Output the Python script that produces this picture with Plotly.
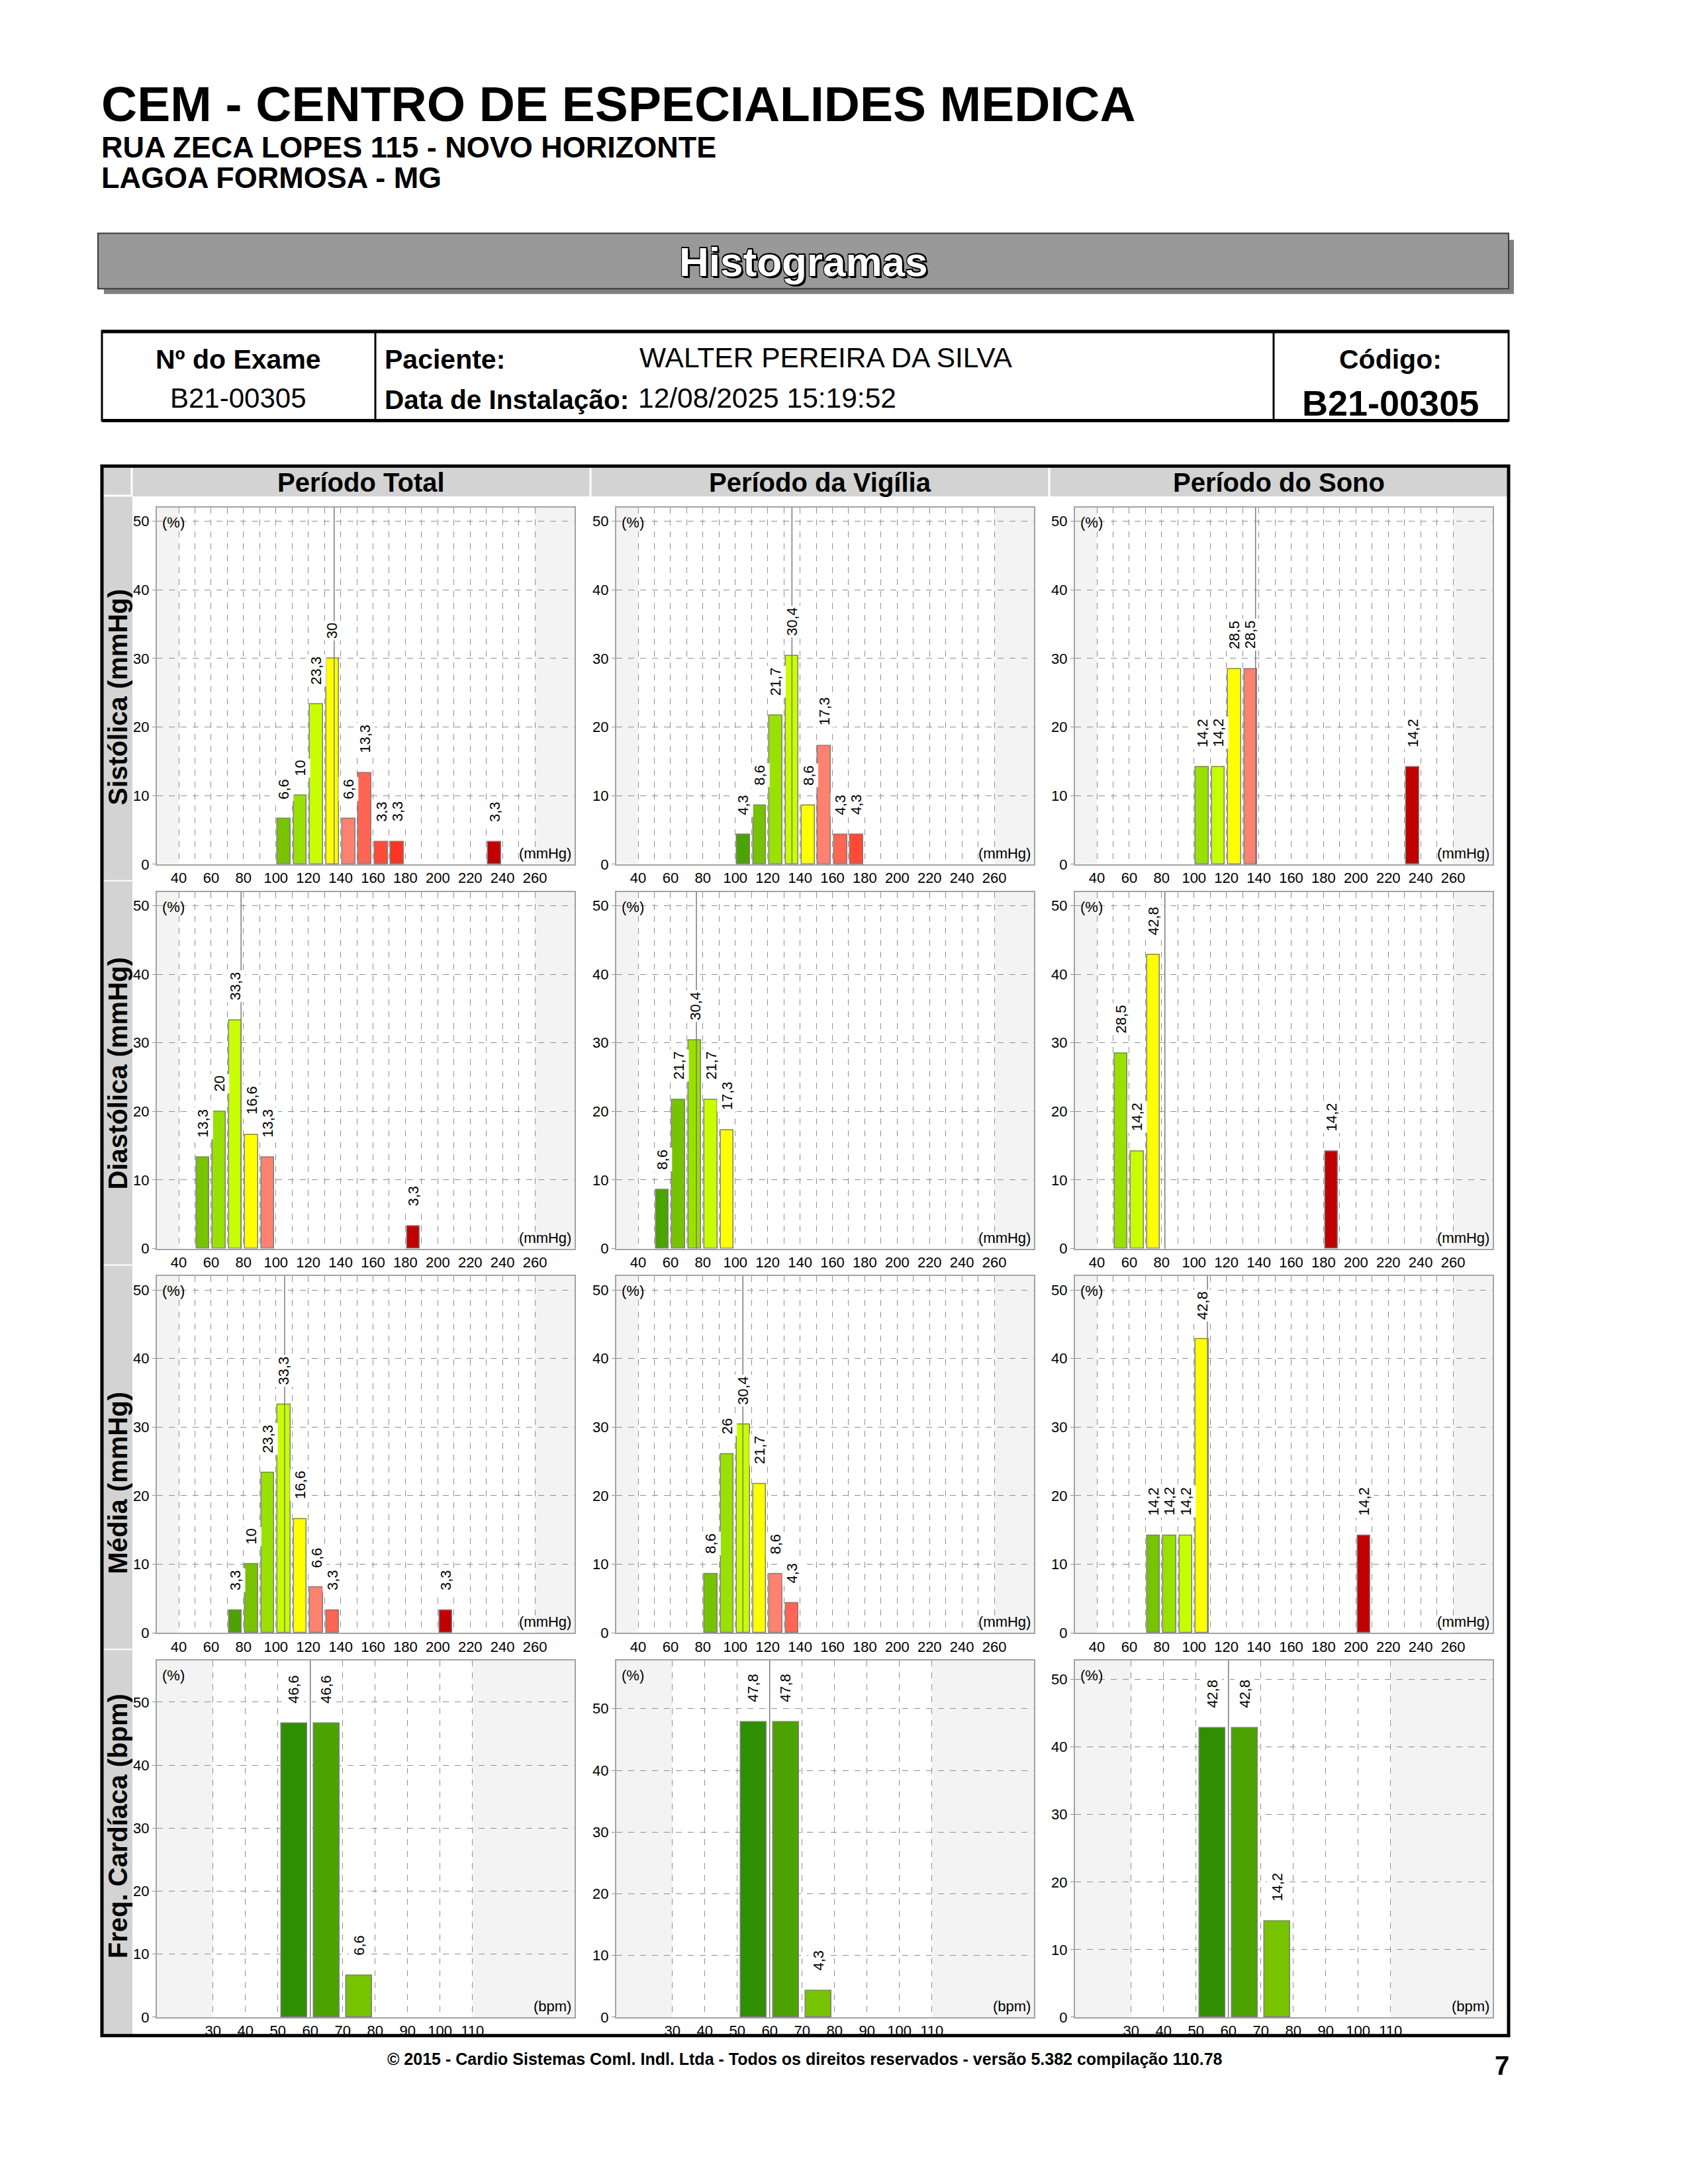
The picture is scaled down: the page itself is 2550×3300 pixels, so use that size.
import plotly.graph_objects as go

FONT = "Liberation Sans, Arial, Helvetica, sans-serif"
W, H = 2550, 3300

# ---------------- texts ----------------
CLINIC = "CEM - CENTRO DE ESPECIALIDES MEDICA"
ADDRESS_1 = "RUA ZECA LOPES 115 - NOVO HORIZONTE"
ADDRESS_2 = "LAGOA FORMOSA - MG"
BANNER = "Histogramas"
EXAM_LABEL = "Nº do Exame"
EXAM_NO = "B21-00305"
PATIENT_LABEL = "Paciente:"
PATIENT = "WALTER PEREIRA DA SILVA"
DATE_LABEL = "Data de Instalação:"
INSTALL_DATE = "12/08/2025 15:19:52"
CODE_LABEL = "Código:"
CODE = "B21-00305"
FOOTER = "© 2015 - Cardio Sistemas Coml. Indl. Ltda - Todos os direitos reservados - versão 5.382 compilação 110.78"
PAGE = "7"

PERIODS = ["Período Total", "Período da Vigília", "Período do Sono"]
ROW_LABELS = ["Sistólica (mmHg)", "Diastólica (mmHg)", "Média (mmHg)", "Freq. Cardíaca (bpm)"]
UNITS = ["(mmHg)", "(mmHg)", "(mmHg)", "(bpm)"]

BP_GRID = [40, 50, 60, 70, 80, 90, 100, 110, 120, 130, 140, 150, 160, 170, 180, 190, 200,
           210, 220, 230, 240, 250, 260]
BP_LABELED = [40, 60, 80, 100, 120, 140, 160, 180, 200, 220, 240, 260]
HR_GRID = [30, 40, 50, 60, 70, 80, 90, 100, 110]
Y_TICKS = [0, 10, 20, 30, 40, 50]

# ---------------- colours ----------------
G1 = "#2f8f00"
G2 = "#4ca300"
G3 = "#77c300"
G4 = "#99e100"
G5 = "#c8ff00"
YE = "#ffff00"
R1 = "#ff8270"
R2 = "#ff6552"
R3 = "#ff4b35"
R4 = "#ff3322"
DR = "#c00000"

# ---------------- data (bin start, %, colour, reference line) ----------------
SYS_TOTAL_BINS = [100, 110, 120, 130, 140, 150, 160, 170, 230]
SYS_TOTAL_PCT = [6.6, 10, 23.3, 30, 6.6, 13.3, 3.3, 3.3, 3.3]
SYS_TOTAL_COL = [G3, G4, G5, YE, R1, R2, R3, R4, DR]
SYS_TOTAL_REF = 136

SYS_VIG_BINS = [100, 110, 120, 130, 140, 150, 160, 170]
SYS_VIG_PCT = [4.3, 8.6, 21.7, 30.4, 8.6, 17.3, 4.3, 4.3]
SYS_VIG_COL = [G2, G3, G4, G5, YE, R1, R2, R3]
SYS_VIG_REF = 135

SYS_SONO_BINS = [100, 110, 120, 130, 230]
SYS_SONO_PCT = [14.2, 14.2, 28.5, 28.5, 14.2]
SYS_SONO_COL = [G4, G5, YE, R1, DR]
SYS_SONO_REF = 138

DIA_TOTAL_BINS = [50, 60, 70, 80, 90, 180]
DIA_TOTAL_PCT = [13.3, 20, 33.3, 16.6, 13.3, 3.3]
DIA_TOTAL_COL = [G3, G4, G5, YE, R1, DR]
DIA_TOTAL_REF = 78.5

DIA_VIG_BINS = [50, 60, 70, 80, 90]
DIA_VIG_PCT = [8.6, 21.7, 30.4, 21.7, 17.3]
DIA_VIG_COL = [G2, G3, G4, G5, YE]
DIA_VIG_REF = 76

DIA_SONO_BINS = [50, 60, 70, 180]
DIA_SONO_PCT = [28.5, 14.2, 42.8, 14.2]
DIA_SONO_COL = [G4, G5, YE, DR]
DIA_SONO_REF = 82

MED_TOTAL_BINS = [70, 80, 90, 100, 110, 120, 130, 200]
MED_TOTAL_PCT = [3.3, 10, 23.3, 33.3, 16.6, 6.6, 3.3, 3.3]
MED_TOTAL_COL = [G2, G3, G4, G5, YE, R1, R2, DR]
MED_TOTAL_REF = 105.4

MED_VIG_BINS = [80, 90, 100, 110, 120, 130]
MED_VIG_PCT = [8.6, 26, 30.4, 21.7, 8.6, 4.3]
MED_VIG_COL = [G3, G4, G5, YE, R1, R2]
MED_VIG_REF = 104.7

MED_SONO_BINS = [70, 80, 90, 100, 200]
MED_SONO_PCT = [14.2, 14.2, 14.2, 42.8, 14.2]
MED_SONO_COL = [G3, G4, G5, YE, DR]
MED_SONO_REF = 108.3

HR_TOTAL_BINS = [50, 60, 70]
HR_TOTAL_PCT = [46.6, 46.6, 6.6]
HR_TOTAL_COL = [G1, G2, G3]
HR_TOTAL_REF = 60

HR_VIG_BINS = [50, 60, 70]
HR_VIG_PCT = [47.8, 47.8, 4.3]
HR_VIG_COL = [G1, G2, G3]
HR_VIG_REF = 60

HR_SONO_BINS = [50, 60, 70]
HR_SONO_PCT = [42.8, 42.8, 14.2]
HR_SONO_COL = [G1, G2, G3]
HR_SONO_REF = 60

PANELS = [
    [(SYS_TOTAL_BINS, SYS_TOTAL_PCT, SYS_TOTAL_COL, SYS_TOTAL_REF),
     (SYS_VIG_BINS, SYS_VIG_PCT, SYS_VIG_COL, SYS_VIG_REF),
     (SYS_SONO_BINS, SYS_SONO_PCT, SYS_SONO_COL, SYS_SONO_REF)],
    [(DIA_TOTAL_BINS, DIA_TOTAL_PCT, DIA_TOTAL_COL, DIA_TOTAL_REF),
     (DIA_VIG_BINS, DIA_VIG_PCT, DIA_VIG_COL, DIA_VIG_REF),
     (DIA_SONO_BINS, DIA_SONO_PCT, DIA_SONO_COL, DIA_SONO_REF)],
    [(MED_TOTAL_BINS, MED_TOTAL_PCT, MED_TOTAL_COL, MED_TOTAL_REF),
     (MED_VIG_BINS, MED_VIG_PCT, MED_VIG_COL, MED_VIG_REF),
     (MED_SONO_BINS, MED_SONO_PCT, MED_SONO_COL, MED_SONO_REF)],
    [(HR_TOTAL_BINS, HR_TOTAL_PCT, HR_TOTAL_COL, HR_TOTAL_REF),
     (HR_VIG_BINS, HR_VIG_PCT, HR_VIG_COL, HR_VIG_REF),
     (HR_SONO_BINS, HR_SONO_PCT, HR_SONO_COL, HR_SONO_REF)],
]

BIN_WIDTH = 10
BAR_WIDTH = 8
BP_XRANGE = [26.5, 284.5]
BP_NORMAL = [40, 260]
HR_XRANGE = [12.7, 141.5]
HR_NORMAL = [30, 110]
BP_YMAX = 52

# ---------------- layout geometry (pixels) ----------------
FRAME = (154, 707, 2279, 3088)
HEADER_BOTTOM = 753
LEFT_COL_RIGHT = 200
COL_LEFT = [200, 894, 1587]
COL_RIGHT = [890, 1583, 2277]
ROW_TOP = [753, 1336, 1919, 2502]
BOX_X = (37, 668)
BOX_Y = (17, 558)

shapes = []
annotations = []


def px_x(x):
    return x / W


def px_y(y):
    return 1 - y / H


def rect(x0, y0, x1, y1, fill=None, line=None, lw=0, layer="below"):
    shapes.append(dict(type="rect", xref="paper", yref="paper",
                       x0=px_x(x0), x1=px_x(x1), y0=px_y(y1), y1=px_y(y0),
                       fillcolor=fill or "rgba(0,0,0,0)",
                       line=dict(color=line or "rgba(0,0,0,0)", width=lw),
                       layer=layer))


def hline(x0, x1, y, color, lw, layer="above"):
    shapes.append(dict(type="line", xref="paper", yref="paper",
                       x0=px_x(x0), x1=px_x(x1), y0=px_y(y), y1=px_y(y),
                       line=dict(color=color, width=lw), layer=layer))


def vline(x, y0, y1, color, lw, layer="above"):
    shapes.append(dict(type="line", xref="paper", yref="paper",
                       x0=px_x(x), x1=px_x(x), y0=px_y(y0), y1=px_y(y1),
                       line=dict(color=color, width=lw), layer=layer))


def text(x, y, s, size, bold=False, color="black", xanchor="left",
         yanchor="middle", angle=0, xshift=0, yshift=0):
    annotations.append(dict(xref="paper", yref="paper", x=px_x(x), y=px_y(y),
                            text=f"<b>{s}</b>" if bold else s, showarrow=False,
                            font=dict(family=FONT, size=size, color=color),
                            xanchor=xanchor, yanchor=yanchor, textangle=angle,
                            xshift=xshift, yshift=yshift, borderpad=0))


def fmt(v):
    return f"{v:g}".replace(".", ",")


# ---------------- page header ----------------
text(152, 158, CLINIC, 75, bold=True)
text(152, 223, ADDRESS_1, 45, bold=True)
text(152, 270, ADDRESS_2, 45, bold=True)

# banner with shadow
rect(157, 364, 2287, 446, fill="#808080", layer="below")
rect(148, 354, 2279, 438, fill="#999999", line="#3a3a3a", lw=2, layer="below")
for dx, dy in [(3, -3), (2, -2), (-1.5, 0), (1.5, 0), (0, 1.5), (0, -1.5),
               (-1.5, 1.5), (1.5, 1.5), (-1.5, -1.5), (1.5, -1.5)]:
    text(1214, 397, BANNER, 62, bold=True, color="black", xanchor="center",
         xshift=dx, yshift=dy)
text(1214, 397, BANNER, 62, bold=True, color="white", xanchor="center")

# info table
rect(154, 502, 2279, 638, line="black", lw=3, layer="above")
hline(154, 2279, 503, "black", 5)
hline(154, 2279, 638, "black", 5)
vline(567, 502, 638, "black", 3)
vline(1924, 502, 638, "black", 3)
text(360, 545, EXAM_LABEL, 41, bold=True, xanchor="center")
text(360, 604, EXAM_NO, 42, xanchor="center")
text(580, 545, PATIENT_LABEL, 41, bold=True)
text(965, 543, PATIENT, 42.5)
text(580, 606, DATE_LABEL, 40.5, bold=True)
text(963, 604, INSTALL_DATE, 42.5)
text(2100, 545, CODE_LABEL, 41, bold=True, xanchor="center")
text(2100, 611, CODE, 54, bold=True, xanchor="center")

# ---------------- grid frame ----------------
rect(FRAME[0], FRAME[1], FRAME[2], HEADER_BOTTOM, fill="#d3d3d3")
rect(FRAME[0], FRAME[1], LEFT_COL_RIGHT, FRAME[3], fill="#d3d3d3")
vline(LEFT_COL_RIGHT - 1, FRAME[1], HEADER_BOTTOM, "white", 3, layer="below")
for xc in COL_RIGHT[:2]:
    vline(xc + 2, FRAME[1], HEADER_BOTTOM, "white", 3, layer="below")
hline(FRAME[0], LEFT_COL_RIGHT, HEADER_BOTTOM - 1, "white", 3, layer="below")
for yr in ROW_TOP[1:]:
    hline(FRAME[0], LEFT_COL_RIGHT, yr, "white", 2, layer="below")
rect(FRAME[0], FRAME[1], FRAME[2], FRAME[3], line="black", lw=5, layer="above")

for c, name in enumerate(PERIODS):
    text((COL_LEFT[c] + COL_RIGHT[c]) / 2, 732, name, 40, bold=True, xanchor="center")

for r, name in enumerate(ROW_LABELS):
    bottom = ROW_TOP[r] + BOX_Y[1] - 88
    text(178, bottom, name, 40, bold=True, xanchor="center", yanchor="bottom", angle=-90)

text(1216, 3123, FOOTER, 25, bold=True, xanchor="center")
text(2269, 3133, PAGE, 40, bold=True, xanchor="center")

# ---------------- histograms ----------------
fig = go.Figure()
layout_axes = {}
for r in range(4):
    is_hr = r == 3
    for c in range(3):
        i = r * 3 + c + 1
        sfx = "" if i == 1 else str(i)
        bins, pct, cols, ref = PANELS[r][c]
        centers = [b + BIN_WIDTH / 2 for b in bins]
        xr = HR_XRANGE if is_hr else BP_XRANGE
        normal = HR_NORMAL if is_hr else BP_NORMAL
        ymax = (max(pct) + 10) if is_hr else BP_YMAX

        fig.add_trace(go.Bar(
            x=centers, y=pct, width=BAR_WIDTH,
            marker=dict(color=cols, line=dict(color="#7d7d7d", width=1.5)),
            xaxis="x" + sfx, yaxis="y" + sfx, showlegend=False, hoverinfo="skip"))

        x0 = COL_LEFT[c] + BOX_X[0]
        x1 = COL_LEFT[c] + BOX_X[1]
        y0 = ROW_TOP[r] + BOX_Y[0]
        y1 = ROW_TOP[r] + BOX_Y[1]

        if is_hr:
            tickvals = HR_GRID
            ticktext = [str(v) for v in HR_GRID]
        else:
            tickvals = BP_GRID
            ticktext = [str(v) if v in BP_LABELED else "" for v in BP_GRID]

        layout_axes["xaxis" + sfx] = dict(
            domain=[px_x(x0), px_x(x1)], anchor="y" + sfx, range=xr,
            tickmode="array", tickvals=tickvals, ticktext=ticktext,
            showgrid=True, gridcolor="#8f8f8f", griddash="dash", gridwidth=1,
            showline=True, mirror=True, linecolor="#a3a3a3", linewidth=2,
            zeroline=False, ticks="", tickfont=dict(family=FONT, size=22, color="black"),
            fixedrange=True)
        layout_axes["yaxis" + sfx] = dict(
            domain=[px_y(y1), px_y(y0)], anchor="x" + sfx, range=[0, ymax],
            tickmode="array", tickvals=Y_TICKS,
            showgrid=True, gridcolor="#8f8f8f", griddash="dash", gridwidth=1,
            showline=True, mirror=True, linecolor="#a3a3a3", linewidth=2,
            zeroline=False, ticks="outside", ticklen=5, tickcolor="#8f8f8f",
            tickfont=dict(family=FONT, size=22, color="black"), fixedrange=True)

        # shaded out-of-range zones
        for a, b in [(xr[0], normal[0]), (normal[1], xr[1])]:
            shapes.append(dict(type="rect", xref="x" + sfx, yref=f"y{sfx} domain",
                               x0=a, x1=b, y0=0, y1=1, fillcolor="#f3f3f3",
                               line=dict(width=0), layer="below"))
        # reference line
        shapes.append(dict(type="line", xref="x" + sfx, yref=f"y{sfx} domain",
                           x0=ref, x1=ref, y0=0, y1=1,
                           line=dict(color="#7a7a7a", width=1.5), layer="above"))
        # value labels
        for xc, v in zip(centers, pct):
            annotations.append(dict(
                xref="x" + sfx, yref="y" + sfx, x=xc, y=v, text=fmt(v),
                showarrow=False, textangle=-90, xanchor="center", yanchor="bottom",
                yshift=27, bgcolor="white", borderpad=2,
                font=dict(family=FONT, size=22, color="black")))
        # corner labels
        annotations.append(dict(
            xref=f"x{sfx} domain", yref=f"y{sfx} domain", x=0, y=1, text="(%)",
            showarrow=False, xanchor="left", yanchor="top", xshift=6, yshift=-8,
            font=dict(family=FONT, size=22, color="black")))
        annotations.append(dict(
            xref=f"x{sfx} domain", yref=f"y{sfx} domain", x=1, y=0, text=UNITS[r],
            showarrow=False, xanchor="right", yanchor="bottom", xshift=-3, yshift=2,
            font=dict(family=FONT, size=22, color="black")))

fig.update_layout(
    width=W, height=H, margin=dict(l=0, r=0, t=0, b=0),
    paper_bgcolor="white", plot_bgcolor="white",
    shapes=shapes, annotations=annotations, bargap=0,
    font=dict(family=FONT, color="black"),
    **layout_axes)

fig.write_html("out.html", config={"displayModeBar": False},
               post_script="document.body.style.margin='0px';")
